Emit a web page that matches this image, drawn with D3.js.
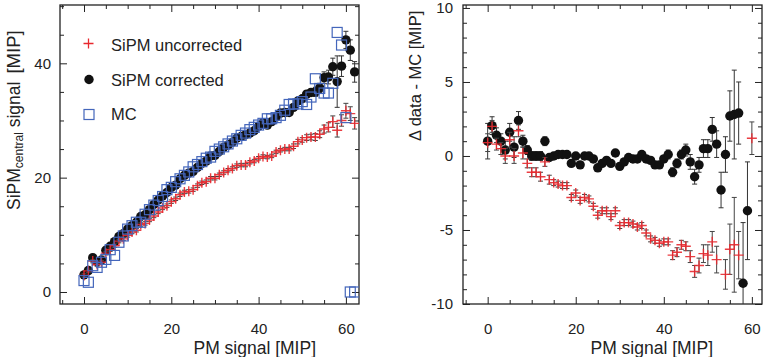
<!DOCTYPE html>
<meta charset="utf-8">
<title>SiPM central signal vs PM signal</title>
<style>
body { margin: 0; background: white; }
svg { font-family: 'Liberation Sans', Arial, sans-serif; background: white; }
</style>
<body>
<div id="chart"></div>
<script src="https://cdn.jsdelivr.net/npm/d3@7"></script>
<script>

// PM signal bins [MIP]
var pmLeft = [0,1,2,3,4,5,6,7,8,9,10,11,12,13,14,15,16,17,18,19,20,21,22,23,24,25,26,27,28,29,
  30,31,32,33,34,35,36,37,38,39,40,41,42,43,44,45,46,47,48,49,50,51,52,53,54,55,56,57,58,59,60,61,62];

// left panel: SiPM central signal [MIP]
var sipmCorrected = [3.0,3.75,6.0,5.3,5.6,7.3,8.0,8.8,9.7,10.2,11.0,11.6,12.2,13.2,13.5,14.4,15.3,16.1,16.8,17.4,
  18.3,18.7,19.8,20.4,20.8,21.1,21.8,22.5,22.9,23.8,23.9,24.6,25.3,25.7,26.2,26.9,27.2,27.5,27.8,28.2,
  29.0,29.6,29.2,29.8,30.6,31.3,31.4,31.4,32.3,33.4,33.8,34.6,34.9,35.0,35.7,37.5,37.6,39.4,36.8,39.5,44.1,42.3,38.5];
var sipmCorrectedErr = [0.3,0.3,0.3,0.3,0.3,0.3,0.3,0.3,0.3,0.3,0.3,0.3,0.3,0.3,0.3,0.3,0.3,0.3,0.3,0.3,
  0.3,0.3,0.3,0.3,0.3,0.3,0.3,0.3,0.3,0.3,0.3,0.3,0.3,0.3,0.3,0.3,0.3,0.3,0.3,0.3,
  0.3,0.3,0.3,0.3,0.4,0.4,0.4,0.4,0.5,0.5,0.5,0.6,0.6,0.8,0.8,1.0,1.2,1.5,4.5,1.8,1.5,1.8,1.8];

var sipmUncorrected = [2.9,3.7,5.4,4.8,5.2,6.8,7.4,8.1,8.9,9.3,9.9,10.5,10.8,11.8,12.0,12.6,13.3,14.0,14.7,15.1,
  15.8,16.3,17.0,17.5,17.6,17.9,18.6,19.1,19.3,19.9,19.9,20.5,20.9,21.3,21.6,22.1,22.2,22.2,22.7,22.9,
  23.4,23.7,23.6,23.8,24.5,24.8,25.0,25.0,25.5,26.3,26.6,27.0,27.1,27.1,27.6,28.5,28.8,29.8,28.3,30.0,31.7,31.2,29.5];
var sipmUncorrectedErr = [0.3,0.3,0.3,0.3,0.3,0.3,0.3,0.3,0.3,0.3,0.3,0.3,0.3,0.3,0.3,0.3,0.3,0.3,0.3,0.3,
  0.3,0.3,0.3,0.3,0.3,0.3,0.3,0.3,0.3,0.3,0.3,0.3,0.3,0.3,0.3,0.3,0.3,0.3,0.3,0.3,
  0.3,0.3,0.3,0.3,0.3,0.3,0.3,0.3,0.4,0.4,0.4,0.5,0.5,0.6,0.6,0.7,0.8,1.0,1.2,1.0,1.3,1.2,1.0];

var sipmMC = [2.0,1.7,4.6,4.3,5.2,5.7,7.4,6.4,8.7,9.8,11.0,11.6,12.2,12.2,13.6,14.4,15.2,16.0,16.7,17.9,
  18.3,19.3,19.8,20.4,21.0,21.9,22.3,22.8,23.4,23.6,24.6,25.0,25.4,25.9,26.4,26.8,27.4,27.8,28.4,28.8,
  29.2,29.5,30.3,30.3,30.5,30.9,31.8,32.8,32.9,32.9,33.3,32.8,34.1,37.3,35.6,34.8,34.8,36.5,45.4,43.2,30.5,0,0];

// right panel: data - MC [MIP]
var pmRight = [0,1,2,3,4,5,6,7,8,9,10,11,12,13,14,15,16,17,18,19,20,21,22,23,24,25,26,27,28,29,
  30,31,32,33,34,35,36,37,38,39,40,41,42,43,44,45,46,47,48,49,50,51,52,53,54,55,56,57,58,59,60];

var deltaCorrected = [1.0,2.05,1.4,1.0,0.4,1.6,0.6,2.4,1.0,0.4,0.0,0.0,0.0,1.0,-0.1,0.0,0.1,0.1,0.1,-0.5,
  0.0,-0.6,0.0,0.0,-0.2,-0.8,-0.5,-0.3,-0.5,0.2,-0.7,-0.4,-0.1,-0.2,-0.2,0.1,-0.2,-0.3,-0.6,-0.6,
  -0.2,0.1,-1.1,-0.5,0.1,0.4,-0.4,-1.4,-0.6,0.5,0.5,1.8,0.8,-2.3,0.1,2.7,2.8,2.9,-8.6,-3.7,null];
var deltaCorrectedErr = [1.2,0.6,0.5,0.5,0.6,0.6,0.7,0.6,0.4,0.3,0.3,0.3,0.3,0.3,0.2,0.2,0.2,0.2,0.2,0.2,
  0.2,0.2,0.2,0.2,0.2,0.2,0.2,0.2,0.2,0.2,0.2,0.2,0.2,0.2,0.2,0.2,0.2,0.2,0.2,0.2,
  0.2,0.3,0.3,0.3,0.3,0.4,0.5,0.5,0.5,0.6,0.6,0.8,0.9,1.2,1.2,1.7,3.0,2.1,4.1,3.3,null];

var deltaUncorrected = [0.9,2.0,0.8,0.5,0.0,1.1,0.0,1.7,0.2,-0.5,-1.1,-1.1,-1.4,-0.4,-1.6,-1.8,-1.9,-2.0,-2.0,-2.8,
  -2.5,-3.0,-2.8,-2.9,-3.4,-4.0,-3.7,-3.7,-4.1,-3.7,-4.7,-4.5,-4.5,-4.6,-4.8,-4.7,-5.2,-5.6,-5.7,-5.9,
  -5.8,-5.8,-6.7,-6.5,-6.0,-6.1,-6.8,-7.8,-7.4,-6.6,-6.7,-5.8,-7.0,null,-8.0,-6.3,-6.0,-6.7,null,null,1.2];
var deltaUncorrectedErr = [0.6,0.4,0.4,0.4,0.5,0.5,0.5,0.4,0.4,0.3,0.3,0.3,0.3,0.3,0.3,0.2,0.2,0.2,0.2,0.2,
  0.2,0.2,0.2,0.2,0.2,0.2,0.2,0.2,0.2,0.2,0.2,0.2,0.2,0.2,0.2,0.2,0.2,0.2,0.2,0.2,
  0.2,0.2,0.3,0.3,0.3,0.3,0.4,0.4,0.5,0.6,0.7,0.7,0.9,null,1.0,1.7,3.2,1.6,null,null,1.1];

// tick values
var xMajor = [0, 20, 40, 60];
var xMinor = [-5, 5, 10, 15, 25, 30, 35, 45, 50, 55];
var yLeftMajor = [0, 20, 40];
var yLeftMinor = [5, 10, 15, 25, 30, 35, 45, 50];
var yRightMajor = [-10, -5, 0, 5, 10];
var yRightMinor = [-9,-8,-7,-6,-4,-3,-2,-1,1,2,3,4,6,7,8,9];

var legendLabels = ["SiPM uncorrected", "SiPM corrected", "MC"];

var red = "#e8282e", blue = "#4466bb", dark = "#111";

var svg = d3.select("#chart").append("svg")
    .attr("width", 763)
    .attr("height", 357);

// scales for both panels
var xL = d3.scaleLinear().domain([-5.5, 63]).range([60, 359]);
var yL = d3.scaleLinear().domain([-2.1, 50.2]).range([304, 5]);
var xR = d3.scaleLinear().domain([-5.6, 62.3]).range([463, 762]);
var yR = d3.scaleLinear().domain([-10, 10.2]).range([304, 5]);

var defs = svg.append("defs");
defs.append("clipPath").attr("id", "clipL").append("rect")
  .attr("x", 60).attr("y", 5).attr("width", 299).attr("height", 299);
defs.append("clipPath").attr("id", "clipR").append("rect")
  .attr("x", 463).attr("y", 5).attr("width", 299).attr("height", 299);

function drawAxes(x, y, yMajor, yMinor, padY) {
  var x0 = x.range()[0], x1 = x.range()[1], y0 = y.range()[0], y1 = y.range()[1];
  var g = svg.append("g");
  function style(a) {
    a.select(".domain").remove();
    a.selectAll("line").attr("stroke", "#222");
    a.attr("font-size", 15).attr("font-family", "'Liberation Sans', Arial, sans-serif");
    a.selectAll("text").attr("fill", "#222");
  }
  g.append("g").attr("transform", "translate(0," + y0 + ")")
    .call(d3.axisBottom(x).tickValues(xMajor).tickSize(-7).tickSizeOuter(0).tickPadding(19).tickFormat(String)).call(style);
  g.append("g").attr("transform", "translate(0," + y0 + ")")
    .call(d3.axisBottom(x).tickValues(xMinor).tickSize(-4).tickSizeOuter(0).tickFormat("")).call(style);
  g.append("g").attr("transform", "translate(0," + y1 + ")")
    .call(d3.axisTop(x).tickValues(xMajor).tickSize(-7).tickSizeOuter(0).tickFormat("")).call(style);
  g.append("g").attr("transform", "translate(0," + y1 + ")")
    .call(d3.axisTop(x).tickValues(xMinor).tickSize(-4).tickSizeOuter(0).tickFormat("")).call(style);
  g.append("g").attr("transform", "translate(" + x0 + ",0)")
    .call(d3.axisLeft(y).tickValues(yMajor).tickSize(-7).tickSizeOuter(0).tickPadding(padY).tickFormat(String)).call(style);
  g.append("g").attr("transform", "translate(" + x0 + ",0)")
    .call(d3.axisLeft(y).tickValues(yMinor).tickSize(-4).tickSizeOuter(0).tickFormat("")).call(style);
  g.append("g").attr("transform", "translate(" + x1 + ",0)")
    .call(d3.axisRight(y).tickValues(yMajor).tickSize(-7).tickSizeOuter(0).tickFormat("")).call(style);
  g.append("g").attr("transform", "translate(" + x1 + ",0)")
    .call(d3.axisRight(y).tickValues(yMinor).tickSize(-4).tickSizeOuter(0).tickFormat("")).call(style);
  // frame
  g.append("rect")
    .attr("x", x0).attr("y", y1).attr("width", x1 - x0).attr("height", y0 - y1)
    .attr("fill", "none").attr("stroke", "#222").attr("stroke-width", 1.3);
}

function drawErr(g, xs, ys, es, x, y, col) {
  var pts = xs.map(function(d, i) { return {x: d, y: ys[i], e: es[i]}; })
    .filter(function(d) { return d.y != null && d.e != null; });
  var eb = g.append("g").attr("stroke", col).attr("stroke-width", 1)
    .selectAll("g").data(pts).enter().append("g");
  eb.append("line")
    .attr("x1", function(d) { return x(d.x); }).attr("x2", function(d) { return x(d.x); })
    .attr("y1", function(d) { return y(d.y - d.e); }).attr("y2", function(d) { return y(d.y + d.e); });
  [-1, 1].forEach(function(s) {
    eb.append("line")
      .attr("x1", function(d) { return x(d.x) - 2.5; }).attr("x2", function(d) { return x(d.x) + 2.5; })
      .attr("y1", function(d) { return y(d.y + s * d.e); }).attr("y2", function(d) { return y(d.y + s * d.e); });
  });
}

function pairs(xs, ys) {
  return xs.map(function(d, i) { return {x: d, y: ys[i]}; }).filter(function(d) { return d.y != null; });
}

var crossPath = "M-5,0H5M0,-5V5";

// ---- left panel
drawAxes(xL, yL, yLeftMajor, yLeftMinor, 9);
var gl = svg.append("g").attr("clip-path", "url(#clipL)");

drawErr(gl, pmLeft, sipmCorrected, sipmCorrectedErr, xL, yL, "#333");
gl.append("g").selectAll("circle").data(pairs(pmLeft, sipmCorrected)).enter().append("circle")
  .attr("cx", function(d) { return xL(d.x); })
  .attr("cy", function(d) { return yL(d.y); })
  .attr("r", 4.7).attr("fill", dark);

drawErr(gl, pmLeft, sipmUncorrected, sipmUncorrectedErr, xL, yL, "#444");
gl.append("g").selectAll("path").data(pairs(pmLeft, sipmUncorrected)).enter().append("path")
  .attr("d", crossPath)
  .attr("transform", function(d) { return "translate(" + xL(d.x) + "," + yL(d.y) + ")"; })
  .attr("stroke", red).attr("stroke-width", 1.4).attr("stroke-opacity", 0.9).attr("fill", "none");

gl.append("g").selectAll("rect").data(pairs(pmLeft, sipmMC)).enter().append("rect")
  .attr("x", function(d) { return xL(d.x) - 5; })
  .attr("y", function(d) { return yL(d.y) - 5; })
  .attr("width", 10).attr("height", 10)
  .attr("fill", "none").attr("stroke", blue).attr("stroke-width", 1.2);

// legend
var lg = svg.append("g").attr("font-size", 16.5).attr("fill", "#222");
lg.append("path").attr("d", crossPath).attr("transform", "translate(88.5,43.5)")
  .attr("stroke", red).attr("stroke-width", 1.3).attr("fill", "none");
lg.append("circle").attr("cx", 89).attr("cy", 79.5).attr("r", 4.7).attr("fill", dark);
lg.append("rect").attr("x", 84).attr("y", 109.5).attr("width", 10).attr("height", 10)
  .attr("fill", "none").attr("stroke", blue).attr("stroke-width", 1.2);
lg.selectAll("text").data(legendLabels).enter().append("text")
  .attr("x", 111)
  .attr("y", function(d, i) { return [50.5, 86, 120][i]; })
  .text(function(d) { return d; });

// axis titles
svg.append("text").attr("x", 316).attr("y", 354).attr("text-anchor", "end")
  .attr("font-size", 17.5).attr("fill", "#222").text("PM signal [MIP]");
var yt = svg.append("text").attr("transform", "translate(19.5,210) rotate(-90)")
  .attr("font-size", 17.5).attr("fill", "#222");
yt.append("tspan").text("SiPM");
yt.append("tspan").attr("font-size", 12).attr("dy", 3.5).text("central");
yt.append("tspan").attr("dy", -3.5).text(" signal");
yt.append("tspan").attr("dx", 8).attr("font-size", 18.5).text("[MIP]");

// ---- right panel
drawAxes(xR, yR, yRightMajor, yRightMinor, 10);
var gr = svg.append("g").attr("clip-path", "url(#clipR)");

drawErr(gr, pmRight, deltaCorrected, deltaCorrectedErr, xR, yR, "#333");
gr.append("g").selectAll("circle").data(pairs(pmRight, deltaCorrected)).enter().append("circle")
  .attr("cx", function(d) { return xR(d.x); })
  .attr("cy", function(d) { return yR(d.y); })
  .attr("r", 4.7).attr("fill", dark);

drawErr(gr, pmRight, deltaUncorrected, deltaUncorrectedErr, xR, yR, "#444");
gr.append("g").selectAll("path").data(pairs(pmRight, deltaUncorrected)).enter().append("path")
  .attr("d", crossPath)
  .attr("transform", function(d) { return "translate(" + xR(d.x) + "," + yR(d.y) + ")"; })
  .attr("stroke", red).attr("stroke-width", 1.4).attr("stroke-opacity", 0.9).attr("fill", "none");

svg.append("text").attr("x", 713).attr("y", 354).attr("text-anchor", "end")
  .attr("font-size", 17.5).attr("fill", "#222").text("PM signal [MIP]");
svg.append("text").attr("transform", "translate(421,141) rotate(-90)")
  .attr("font-size", 16.5).attr("fill", "#222").text("\u0394 data - MC [MIP]");

</script>
</body>
